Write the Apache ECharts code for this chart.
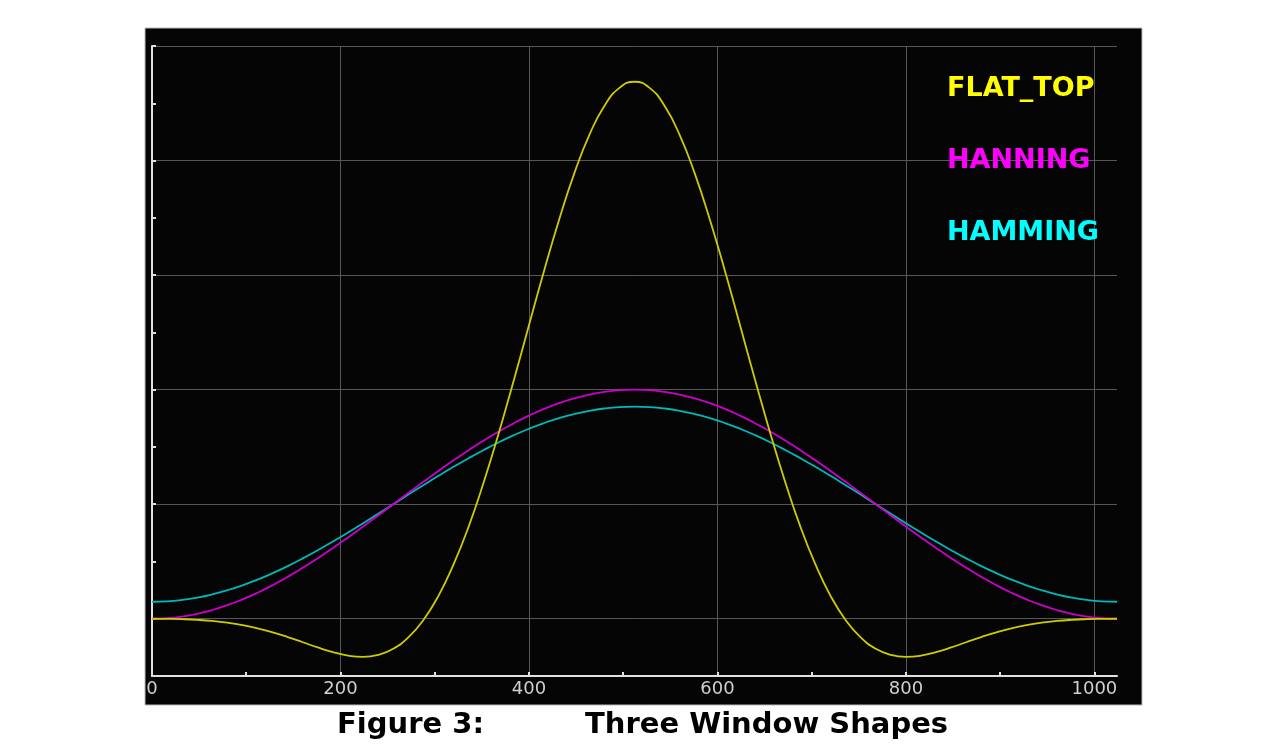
<!DOCTYPE html>
<html>
<head>
<meta charset="utf-8">
<title>Three Window Shapes</title>
<script src="https://cdn.jsdelivr.net/npm/echarts@6/dist/echarts.min.js"></script>
<style>
  html, body { margin: 0; padding: 0; background: #fff; }
  #chart { width: 1280px; height: 756px; }
</style>
</head>
<body>
<div id="chart"></div>
<script>
// sample index (window length 1024), read every 16 samples
var sampleIdx = [0, 16, 32, 48, 64, 80, 96, 112, 128, 144, 160, 176, 192, 208, 224, 240, 256,
  272, 288, 304, 320, 336, 352, 368, 384, 400, 416, 432, 448, 464, 480, 496, 512,
  528, 544, 560, 576, 592, 608, 624, 640, 656, 672, 688, 704, 720, 736, 752, 768,
  784, 800, 816, 832, 848, 864, 880, 896, 912, 928, 944, 960, 976, 992, 1008, 1024];

var flatTop = [0, -0.0005, -0.002, -0.0049, -0.0097, -0.0171, -0.0276, -0.0416, -0.0592,
  -0.0799, -0.1026, -0.1255, -0.1461, -0.1611, -0.1665, -0.158, -0.131,
  -0.0814, -0.0055, 0.100, 0.237, 0.402, 0.596, 0.811, 1.042,
  1.281, 1.518, 1.742, 1.943, 2.111, 2.238, 2.317, 2.344,
  2.317, 2.238, 2.111, 1.943, 1.742, 1.518, 1.281, 1.042,
  0.811, 0.596, 0.402, 0.237, 0.100, -0.0055, -0.0814, -0.131,
  -0.158, -0.1665, -0.1611, -0.1461, -0.1255, -0.1026, -0.0799, -0.0592,
  -0.0416, -0.0276, -0.0171, -0.0097, -0.0049, -0.002, -0.0005, 0];

var hanning = [0, 0.0024, 0.0096, 0.0215, 0.0381, 0.059, 0.0843, 0.1135, 0.1464,
  0.1828, 0.2222, 0.2643, 0.3087, 0.3549, 0.4025, 0.451, 0.5,
  0.549, 0.5975, 0.6451, 0.6913, 0.7357, 0.7778, 0.8172, 0.8536,
  0.8865, 0.9157, 0.941, 0.9619, 0.9785, 0.9904, 0.9976, 1.0,
  0.9976, 0.9904, 0.9785, 0.9619, 0.941, 0.9157, 0.8865, 0.8536,
  0.8172, 0.7778, 0.7357, 0.6913, 0.6451, 0.5975, 0.549, 0.5,
  0.451, 0.4025, 0.3549, 0.3087, 0.2643, 0.2222, 0.1828, 0.1464,
  0.1135, 0.0843, 0.059, 0.0381, 0.0215, 0.0096, 0.0024, 0];

var hamming = [0.074, 0.076, 0.0822, 0.0923, 0.1064, 0.1243, 0.1458, 0.1707, 0.1988,
  0.2297, 0.2633, 0.2992, 0.337, 0.3763, 0.4169, 0.4582, 0.5,
  0.5418, 0.5831, 0.6237, 0.663, 0.7008, 0.7367, 0.7703, 0.8012,
  0.8293, 0.8542, 0.8757, 0.8936, 0.9077, 0.9178, 0.924, 0.926,
  0.924, 0.9178, 0.9077, 0.8936, 0.8757, 0.8542, 0.8293, 0.8012,
  0.7703, 0.7367, 0.7008, 0.663, 0.6237, 0.5831, 0.5418, 0.5,
  0.4582, 0.4169, 0.3763, 0.337, 0.2992, 0.2633, 0.2297, 0.1988,
  0.1707, 0.1458, 0.1243, 0.1064, 0.0923, 0.0822, 0.076, 0.074];

var seriesNames = ['FLAT_TOP', 'HANNING', 'HAMMING'];
var lineColors = ['#cccc00', '#cc00cc', '#00b8b8'];
var legendColors = ['#ffff00', '#ff00ff', '#00ffff'];

function pairs(ys) {
  var out = [];
  for (var i = 0; i < sampleIdx.length; i++) out.push([sampleIdx[i], ys[i]]);
  return out;
}

var myChart = echarts.init(document.getElementById('chart'));

var option = {
  backgroundColor: '#ffffff',
  animation: false,
  graphic: [{
    type: 'rect',
    z: -10,
    shape: { x: 145, y: 28, width: 997, height: 677 },
    style: { fill: '#050505', stroke: '#bbbbbb', lineWidth: 1 }
  }],
  title: [{
    text: 'Figure 3:',
    left: 332,
    top: 706,
    textStyle: { fontFamily: 'DejaVu Sans', fontWeight: 'bold', fontSize: 29, color: '#000' }
  }, {
    text: 'Three Window Shapes',
    left: 580,
    top: 706,
    textStyle: { fontFamily: 'DejaVu Sans', fontWeight: 'bold', fontSize: 29, color: '#000' }
  }],
  legend: {
    orient: 'vertical',
    left: 937,
    top: 70,
    icon: 'none',
    itemWidth: 0,
    itemGap: 45,
    selectedMode: false,
    data: seriesNames.map(function (n, i) {
      return { name: n, textStyle: { color: legendColors[i] } };
    }),
    textStyle: { fontFamily: 'DejaVu Sans', fontWeight: 'bold', fontSize: 27 }
  },
  grid: { left: 152, right: 163, top: 46, bottom: 80 },
  xAxis: {
    type: 'value',
    min: 0,
    max: 1024,
    interval: 100,
    axisLine: { show: true, onZero: false, lineStyle: { color: '#e0e0e0', width: 2 } },
    axisTick: { show: true, inside: true, length: 4, lineStyle: { color: '#e0e0e0', width: 2 } },
    axisLabel: {
      color: '#cfcfcf',
      fontFamily: 'DejaVu Sans',
      fontSize: 18,
      margin: 4,
      showMaxLabel: false,
      formatter: function (v) { return v % 200 === 0 ? String(v) : ''; }
    },
    splitLine: {
      show: true,
      lineStyle: { color: ['#575757', 'rgba(0,0,0,0)'], width: 1 }
    }
  },
  yAxis: {
    type: 'value',
    min: -0.25,
    max: 2.5,
    interval: 0.25,
    axisLine: { show: true, lineStyle: { color: '#e0e0e0', width: 2 } },
    axisTick: { show: true, inside: true, length: 4, lineStyle: { color: '#e0e0e0', width: 2 } },
    axisLabel: { show: false },
    splitLine: {
      show: true,
      lineStyle: { color: ['rgba(0,0,0,0)', '#575757'], width: 1 }
    }
  },
  series: [
    { name: seriesNames[2], type: 'line', data: pairs(hamming) },
    { name: seriesNames[1], type: 'line', data: pairs(hanning) },
    { name: seriesNames[0], type: 'line', data: pairs(flatTop) }
  ].map(function (s) {
    var i = seriesNames.indexOf(s.name);
    s.smooth = 0.5;
    s.showSymbol = false;
    s.symbol = 'none';
    s.color = lineColors[i];
    s.lineStyle = { color: lineColors[i], width: 1.8 };
    return s;
  })
};

myChart.setOption(option);
</script>
</body>
</html>
